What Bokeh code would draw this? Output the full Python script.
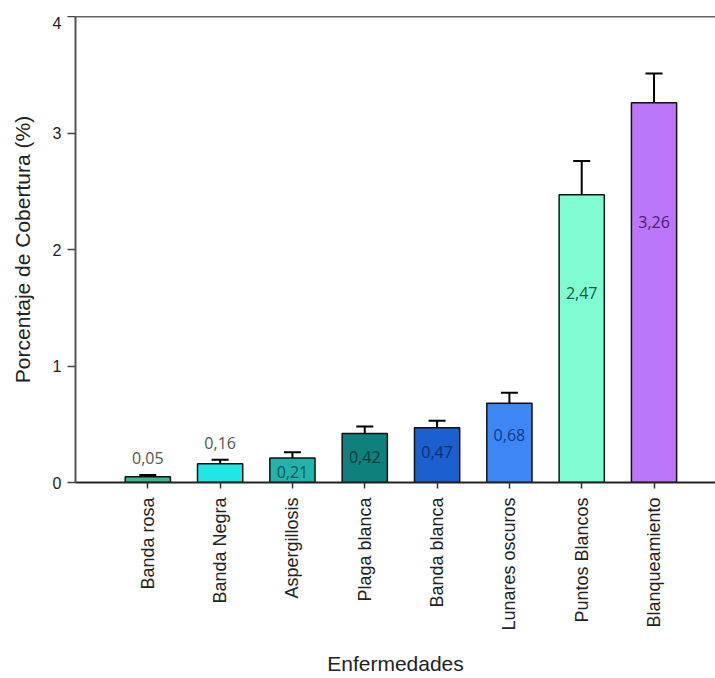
from bokeh.plotting import figure
from bokeh.models import (ColumnDataSource, Range1d, FixedTicker, LinearAxis, Whisker, Spacer)
from bokeh.layouts import column, row
from bokeh.core.properties import value
from bokeh.embed import file_html
from bokeh.resources import INLINE

# ---- data ----
categories = ["Banda rosa", "Banda Negra", "Aspergillosis", "Plaga blanca",
              "Banda blanca", "Lunares oscuros", "Puntos Blancos", "Blanqueamiento"]
means = [0.05, 0.16, 0.21, 0.42, 0.47, 0.68, 2.47, 3.26]
errors = [0.015, 0.035, 0.05, 0.06, 0.06, 0.09, 0.29, 0.25]
value_labels = ["0,05", "0,16", "0,21", "0,42", "0,47", "0,68", "2,47", "3,26"]

# ---- styling ----
bar_colors = ["#3cb88c", "#22e6e6", "#22b3ab", "#0f807c", "#1c5fcf",
              "#3f86f5", "#80fcd2", "#bb77f7"]
label_colors = ["#555555", "#555555", "#0b5a58", "#0a3d3c", "#0b2f73",
                "#0c3c8c", "#0b5e3a", "#4b1a7a"]
label_y = [0.21, 0.34, 0.094, 0.22, 0.265, 0.41, 1.63, 2.24]

xs = list(range(len(categories)))
upper = [m + e for m, e in zip(means, errors)]

src = ColumnDataSource(dict(x=xs, top=means, upper=upper, base=means,
                            color=bar_colors, lab=value_labels,
                            lab_y=label_y, lab_color=label_colors))

p = figure(width=708, height=661, output_backend="svg", toolbar_location=None,
           x_range=Range1d(-1, 7.85), y_range=Range1d(0, 4),
           min_border_left=0, min_border_right=0, min_border_top=0,
           min_border_bottom=0)
p.outline_line_color = None
p.xgrid.visible = False
p.ygrid.visible = False
p.background_fill_color = "white"
p.border_fill_color = "white"

# error bars (upper only)
wh = Whisker(source=src, base="x", upper="upper", lower="base",
             line_color="black", line_width=2, level="underlay")
wh.upper_head.size = 17
wh.upper_head.line_width = 2
wh.upper_head.line_color = "black"
wh.lower_head = None
p.add_layout(wh)

p.vbar(x="x", top="top", bottom=0, width=0.625, source=src,
       fill_color="color", line_color="#111111", line_width=1.5)

p.text(x="x", y="lab_y", text="lab", source=src, text_color="lab_color",
       text_font=value("Open Sans"), text_font_size="16px",
       text_align="center", text_baseline="middle")

# x axis
xa = p.xaxis[0]
xa.ticker = FixedTicker(ticks=xs)
xa.major_label_overrides = {i: c for i, c in enumerate(categories)}
xa.major_label_orientation = 1.5707963
xa.major_label_text_font = "Liberation Sans"
xa.major_label_text_font_size = "18px"
xa.major_label_text_color = "#222222"
xa.major_label_standoff = 9
xa.major_tick_in = 0
xa.major_tick_out = 6
xa.minor_tick_line_color = None
xa.axis_line_color = "#222222"
xa.axis_line_width = 2
xa.major_tick_line_color = "#333333"
xa.major_tick_line_width = 1.5
xa.axis_label = "Enfermedades"
xa.axis_label_text_font = "Liberation Sans"
xa.axis_label_text_font_size = "21px"
xa.axis_label_text_font_style = "normal"
xa.axis_label_text_color = "#222222"
xa.axis_label_standoff = 18

# y axis
ya = p.yaxis[0]
ya.ticker = FixedTicker(ticks=[0, 1, 2, 3, 4])
ya.major_label_text_font = "Liberation Sans"
ya.major_label_text_font_size = "16px"
ya.major_label_text_color = "#222222"
ya.major_label_standoff = 6
ya.major_tick_in = 0
ya.major_tick_out = 8
ya.minor_tick_line_color = None
ya.axis_line_color = "#555555"
ya.axis_line_width = 2
ya.major_tick_line_color = "#444444"
ya.major_tick_line_width = 1.5
ya.axis_label = "Porcentaje de Cobertura (%)"
ya.axis_label_text_font = "Liberation Sans"
ya.axis_label_text_font_size = "21px"
ya.axis_label_text_font_style = "normal"
ya.axis_label_text_color = "#222222"
ya.axis_label_standoff = 16

# top border line
top_ax = LinearAxis(ticker=FixedTicker(ticks=[]), major_label_text_font_size="0px",
                    axis_line_color="#666666", axis_line_width=2,
                    major_tick_line_color=None, minor_tick_line_color=None)
p.add_layout(top_ax, "above")

layout = column(Spacer(height=16), row(Spacer(width=7), p))

open("out.html", "w").write(file_html(layout, INLINE))
